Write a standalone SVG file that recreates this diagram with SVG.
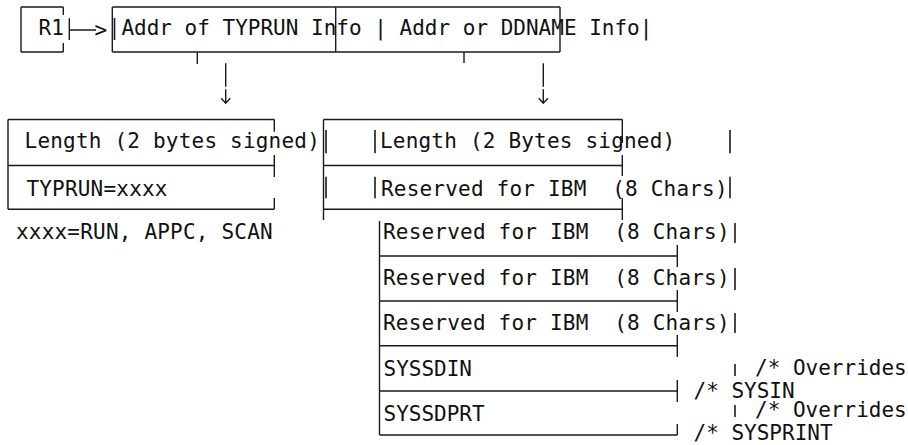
<svg xmlns="http://www.w3.org/2000/svg" width="908" height="445" viewBox="0 0 908 445">
<style>
  text { font-family: "DejaVu Sans Mono", "Liberation Mono", monospace; font-size: 21px; fill: #111; white-space: pre; }
  .wide { letter-spacing: 0.2px; }
  .ln { stroke: #1a1a1a; stroke-width: 1.4; fill: none; stroke-linecap: butt; }
  .bar { stroke: #1a1a1a; stroke-width: 1.6; }
</style>
<rect width="908" height="445" fill="#ffffff"/>

<g id="node-r1">
  <path class="ln" d="M21 7 H63.3 M21 52 H63.3 M21 7 V52 M63.3 7 V15 M63.3 43 V52"/>
  <text x="38.6" y="35">R1</text>
</g>

<g id="node-pointer-list">
  <path class="ln" d="M112.3 7 H560 M112.3 52 H560 M112.3 7 V52 M335.7 7 V52 M560 7 V52"/>
  <line class="bar" x1="114.5" y1="18" x2="114.5" y2="40"/>
  <text x="121.4" y="35">Addr of TYPRUN Info | Addr or DDNAME Info|</text>
</g>

<g id="node-typrun">
  <path class="ln" d="M8 119.5 H274.3 M8 165.5 H274.3 M8 209.3 H274.3 M8 119.5 V209.3 M274.3 119.5 V131.7 M274.3 155 V177 M274.3 198 V209.3"/>
  <line class="bar" x1="326" y1="130" x2="326" y2="153.3"/>
  <line class="bar" x1="326" y1="176.7" x2="326" y2="198.3"/>
  <text class="wide" x="24.6" y="148.3">Length (2 bytes signed)</text>
  <text class="wide" x="26.4" y="196">TYPRUN=xxxx</text>
  <text class="wide" x="16" y="239.3">xxxx=RUN, APPC, SCAN</text>
</g>

<g id="node-ddname">
  <path class="ln" d="M323.5 119.5 H622.3 M323.5 165.5 H622.3 M323.5 209.3 H622.3 M323.5 119.5 V220 M622.3 119.5 V143 M622.3 155 V176 M622.3 198 V220"/>
  <line class="bar" x1="375" y1="130" x2="375" y2="153.3"/>
  <line class="bar" x1="730" y1="130" x2="730" y2="153.3"/>
  <line class="bar" x1="375" y1="176.7" x2="375" y2="198.3"/>
  <line class="bar" x1="730" y1="176.7" x2="730" y2="198.3"/>
  <text class="wide" x="380" y="148.3">Length (2 Bytes signed)</text>
  <text class="wide" x="381" y="196">Reserved for IBM  (8 Chars)</text>
</g>

<g id="node-reserved">
  <path class="ln" d="M379.5 221 V435 M379.5 256 H677.3 M379.5 301 H677.3 M379.5 345.7 H677.3 M379.5 391 H677.3 M379.5 435 H677.3 M677.3 245 V267 M677.3 290 V312 M677.3 335 V357 M677.3 380 V402 M677.3 424 V435"/>
  <line class="bar" x1="735" y1="223" x2="735" y2="243"/>
  <line class="bar" x1="735" y1="268" x2="735" y2="290"/>
  <line class="bar" x1="735" y1="313" x2="735" y2="333"/>
  <text class="wide" x="383" y="239.3">Reserved for IBM  (8 Chars)</text>
  <text class="wide" x="383" y="284.5">Reserved for IBM  (8 Chars)</text>
  <text class="wide" x="383" y="329.5">Reserved for IBM  (8 Chars)</text>
  <text x="383.5" y="376">SYSSDIN</text>
  <text x="383.5" y="420.7">SYSSDPRT</text>
</g>

<g id="node-comments">
  <line class="bar" x1="735" y1="364" x2="735" y2="376"/>
  <line class="bar" x1="735" y1="405" x2="735" y2="417"/>
  <text x="755" y="375">/* Overrides</text>
  <text x="693.5" y="398">/* SYSIN</text>
  <text x="755" y="416.5">/* Overrides</text>
  <text x="693.5" y="439.5">/* SYSPRINT</text>
</g>

<g id="connectors">
  <path class="ln" d="M69.3 18.3 V40 M69.3 30 H96"/>
  <text x="94.5" y="37">&gt;</text>
  <path class="ln" d="M197.3 52 V64 M464 52 V63"/>
  <path class="ln" d="M225.7 63.3 V86.7 M225.7 89.3 V103.3 M221.2 98.3 L225.7 103.3 L230.2 98.3"/>
  <path class="ln" d="M543.3 63.3 V86.7 M543.3 89.3 V103.3 M538.8 98.3 L543.3 103.3 L547.8 98.3"/>
</g>
</svg>
